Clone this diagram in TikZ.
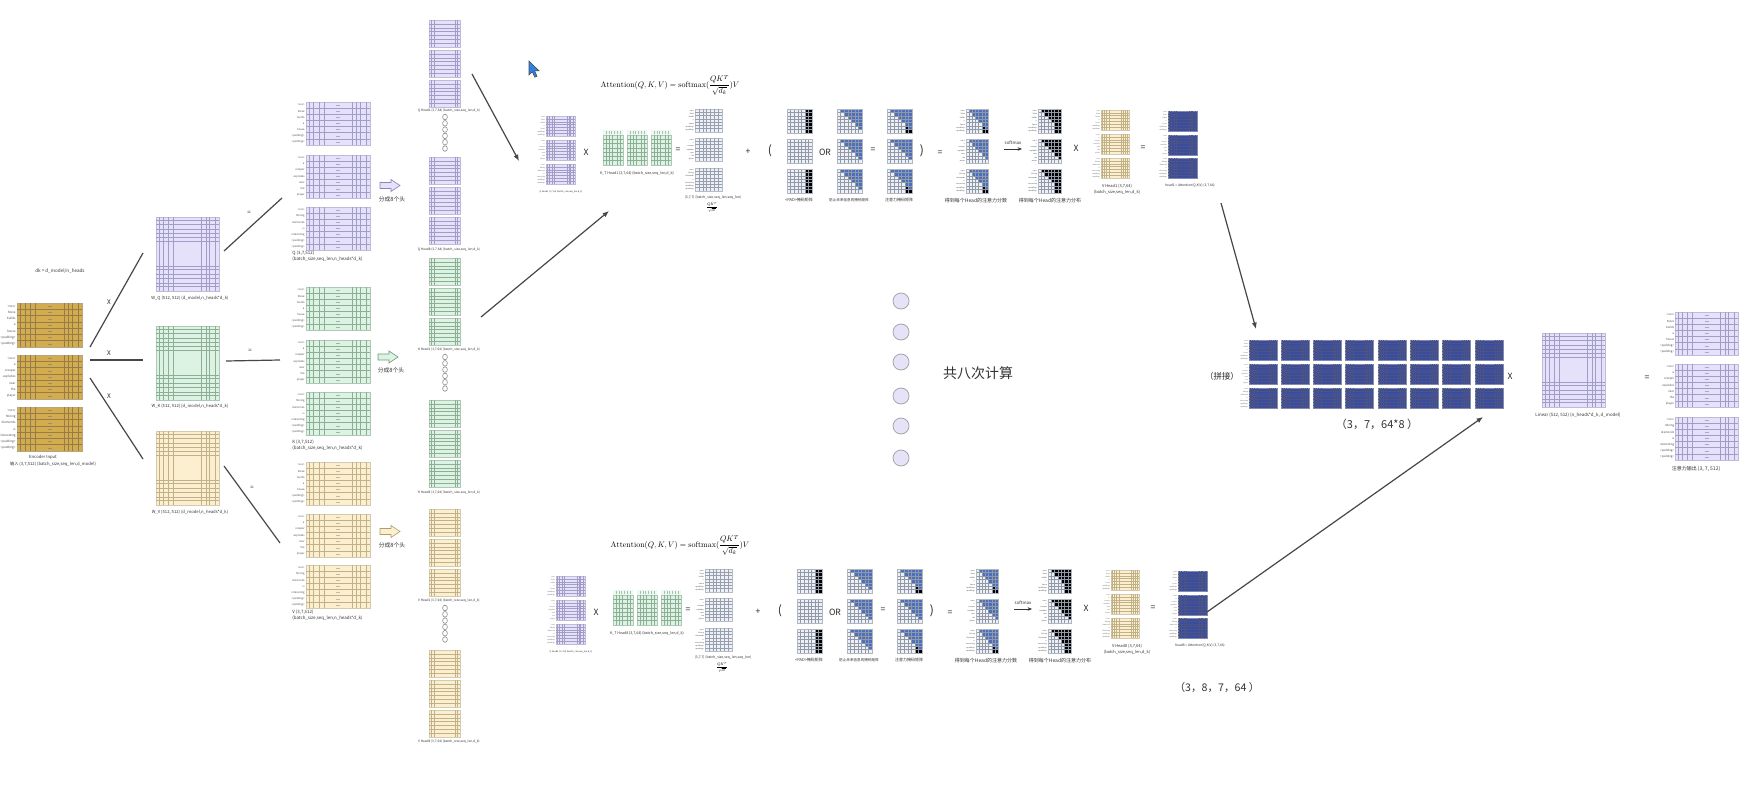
\documentclass[tikz,border=0pt]{standalone}
\usepackage{fontspec}
\usepackage{graphicx}
\newfontfamily\cjk{Noto Sans CJK SC}
\usetikzlibrary{calc,arrows.meta}
\definecolor{goldF}{HTML}{D4AC50}
\definecolor{goldL}{HTML}{7A5C1C}
\definecolor{purF}{HTML}{E6E1FA}
\definecolor{purL}{HTML}{8A84B8}
\definecolor{grnF}{HTML}{DCF2E2}
\definecolor{grnL}{HTML}{6E9A7A}
\definecolor{yelF}{HTML}{FBEFCF}
\definecolor{yelL}{HTML}{B09E6C}
\definecolor{navF}{HTML}{3B4B9D}
\definecolor{navL}{HTML}{1E2A66}
\definecolor{mskB}{HTML}{4A6FBE}
\definecolor{grdF}{HTML}{EDF1F7}
\definecolor{grdL}{HTML}{7D8797}
\definecolor{cirF}{HTML}{E6E3F8}
\definecolor{curB}{HTML}{2F80E6}

\def\VF{0.05,0.12,0.2,0.28,0.72,0.79,0.85,0.94}
\def\HS{0.143,0.286,0.429,0.571,0.714,0.857}
\def\HW{0.05,0.1,0.16,0.22,0.27,0.33,0.67,0.71,0.77,0.83,0.89,0.94}
\def\VH{0.08,0.17,0.83,0.92}
\def\VK{0.15,0.3,0.45,0.7,0.85}
\def\SA{<sos>,Steve,builds,a,house,<padding>,<padding>}
\def\SB{<sos>,a,creeper,explodes,near,the,player}
\def\SC{<sos>,Mining,diamonds,is,interesting,<padding>,<padding>}

% matrix: name, x, y, w, h, fill, line, vfracs, hfracs
\newcommand\Mx[9]{%
  \node[inner sep=0pt,outer sep=0pt,minimum width=#4*0.5pt,minimum height=#5*0.5pt,fill=#6,draw=#7!55,line width=0.3pt] (#1) at ({#2+#4/2},{#3+#5/2}) {};%
  \foreach \f in #8 {\draw[#7!80,line width=0.22pt] ({#2+\f*#4},#3) -- ({#2+\f*#4},{#3+#5});}%
  \foreach \f in #9 {\draw[#7!80,line width=0.22pt] (#2,{#3+\f*#5}) -- ({#2+#4},{#3+\f*#5});}%
}
% seven-row matrix with centre dashes
\newcommand\Sm[7]{%
  \Mx{#1}{#2}{#3}{#4}{#5}{#6}{#7}{\VF}{\HS}%
  \foreach \i in {1,...,7}{\draw[#7!70,line width=0.2pt] ({#2+#4/2-2},{#3+(\i-0.5)*#5/7}) -- ++(4,0);}%
}
% row labels: x right, y top, h, list, size
\newcommand\RL[5]{%
  \foreach \w [count=\i] in #4 {\node[anchor=east,inner sep=0pt,font=\cjk\fontsize{#5}{#5}\selectfont,text=black!70] at (#1,{#2+(\i-0.5)*#3/7}) {\w};}%
}
% mask grid: x, y, w, h, pad flag, mode (1 pad, 2 causal, 3 combined, 4 softmax)
\newcommand\Mask[6]{%
  \fill[grdF] (#1,#2) rectangle ({#1+#3},{#2+#4});%
  \foreach \rr in {0,...,6}{\foreach \cc in {0,...,6}{%
    \pgfmathtruncatemacro\mUp{\cc>\rr ? 1 : 0}%
    \pgfmathtruncatemacro\mPd{(#5==1 && \cc>4) ? 1 : 0}%
    \ifcase#6\or
      \ifnum\mPd=1 \fill[black] ({#1+\cc*#3/7},{#2+\rr*#4/7}) rectangle ++({#3/7},{#4/7});\fi
    \or
      \ifnum\mUp=1 \fill[mskB] ({#1+\cc*#3/7},{#2+\rr*#4/7}) rectangle ++({#3/7},{#4/7});\fi
    \or
      \ifnum\mUp=1 \fill[mskB] ({#1+\cc*#3/7},{#2+\rr*#4/7}) rectangle ++({#3/7},{#4/7});\else\ifnum\mPd=1 \fill[black] ({#1+\cc*#3/7},{#2+\rr*#4/7}) rectangle ++({#3/7},{#4/7});\fi\fi
    \or
      \ifnum\mUp=1 \fill[black] ({#1+\cc*#3/7},{#2+\rr*#4/7}) rectangle ++({#3/7},{#4/7});\else\ifnum\mPd=1 \fill[black] ({#1+\cc*#3/7},{#2+\rr*#4/7}) rectangle ++({#3/7},{#4/7});\fi\fi
    \fi
  }}%
  \foreach \i in {1,...,6}{\draw[grdL!85,line width=0.22pt] ({#1+\i*#3/7},#2) -- ++(0,#4); \draw[grdL!85,line width=0.22pt] (#1,{#2+\i*#4/7}) -- ++(#3,0);}%
  \draw[grdL!60,line width=0.3pt] (#1,#2) rectangle ({#1+#3},{#2+#4});%
}
% block arrow
\newcommand\BA[4]{\filldraw[fill=#3,draw=#4,line width=0.3pt] (#1,{#2-3}) -- ++(11,0) -- ++(0,-3) -- ++(9,6) -- ++(-9,6) -- ++(0,-3) -- ++(-11,0) -- cycle;}
% head group
\newcommand\HG[4]{\Mx{#1a}{429}{#2}{31}{27}{#3}{#4}{\VH}{\HS}\Mx{#1b}{429}{#2+30}{31}{27}{#3}{#4}{\VH}{\HS}\Mx{#1c}{429}{#2+60}{31}{27}{#3}{#4}{\VH}{\HS}}
\newcommand\Dots[1]{\foreach \jj in {0,...,5}{\draw[black!45,line width=0.3pt] (445,{#1+\jj*6.3}) circle[x radius=1.2pt,y radius=1.4pt];}}

% one attention row (prefix, head number)
\newcommand\AttRow[2]{%
  \node[scale=0.4,inner sep=0pt] (#1form) at (670,85) {$\displaystyle\mathrm{Attention}(Q,K,V)=\mathrm{softmax}(\frac{QK^T}{\sqrt{d_k}})V$};
  \Mx{#1q1}{546}{116}{29}{20}{purF}{purL}{\VF}{\HS}\RL{545.5}{116}{20}{\SA}{0.8}
  \Mx{#1q2}{546}{140}{29}{20}{purF}{purL}{\VF}{\HS}\RL{545.5}{140}{20}{\SB}{0.8}
  \Mx{#1q3}{546}{164}{29}{20}{purF}{purL}{\VF}{\HS}\RL{545.5}{164}{20}{\SC}{0.8}
  \node[tl,font=\cjk\fontsize{1.1}{1.3}\selectfont] (#1ql) at (561,192) {Q Head#2 (3,7,64) (batch\_size,seq\_len,d\_k)};
  \node[op] (#1x1) at (586,152) {X};
  \foreach \xx [count=\jj] in {603,627,651}{%
    \fill[grnF!50] (\xx,130) rectangle ++(20,4.5);
    \foreach \i in {1,...,6}{\draw[grnL!60,line width=0.2pt] ({\xx+\i*20/7},130.5) -- ++(0,3.5);}
    \Mx{#1k\jj}{\xx}{135}{20}{30}{grnF}{grnL}{\VK}{\HS}}
  \node[tl,font=\cjk\fontsize{1.8}{2}\selectfont] (#1kl) at (637,173) {K\_T Head#2 (3,7,64) (batch\_size,seq\_len,d\_k)};
  \node[op] (#1e1) at (678,150) {=};
  \Mx{#1s1}{695}{109}{27}{23}{grdF}{grdL}{\HS}{\HS}\RL{694.5}{109}{23}{\SA}{0.9}
  \Mx{#1s2}{695}{138}{27}{23}{grdF}{grdL}{\HS}{\HS}\RL{694.5}{138}{23}{\SB}{0.9}
  \Mx{#1s3}{695}{168}{27}{23}{grdF}{grdL}{\HS}{\HS}\RL{694.5}{168}{23}{\SC}{0.9}
  \node[tl,font=\cjk\fontsize{1.7}{2}\selectfont] (#1sl) at (713,197) {(3,7,7) (batch\_size,seq\_len,seq\_len)};
  \node[scale=0.2,inner sep=0pt] (#1sf) at (712,207) {$\displaystyle\frac{QK^T}{\sqrt{d_k}}$};
  \node[op] (#1p) at (748,152) {+};
  \node[op,font=\cjk\fontsize{6}{7}\selectfont] (#1lp) at (770,151) {(};
  \Mask{787}{109}{25}{24}{1}{1}\Mask{787}{139}{25}{24}{0}{1}\Mask{787}{169}{25}{24}{1}{1}
  \node[tl,font=\cjk\fontsize{2}{2.4}\selectfont] (#1ml1) at (799,200) {<PAD>掩码矩阵};
  \node[op] (#1or) at (825,152) {OR};
  \Mask{837}{109}{25}{24}{1}{2}\Mask{837}{139}{25}{24}{0}{2}\Mask{837}{169}{25}{24}{1}{2}
  \node[tl,font=\cjk\fontsize{1.8}{2.2}\selectfont] (#1ml2) at (849,200) {防止未来信息的掩码矩阵};
  \node[op] (#1e2) at (873,150) {=};
  \Mask{887}{109}{25}{24}{1}{3}\Mask{887}{139}{25}{24}{0}{3}\Mask{887}{169}{25}{24}{1}{3}
  \node[tl,font=\cjk\fontsize{2}{2.4}\selectfont] (#1ml3) at (899,200) {注意力掩码矩阵};
  \node[op,font=\cjk\fontsize{6}{7}\selectfont] (#1rp) at (922,151) {)};
  \node[op] (#1e3) at (940,153) {=};
  \Mask{966}{109}{22}{24}{1}{3}\RL{965.5}{109}{24}{\SA}{0.9}
  \Mask{966}{139}{22}{24}{0}{3}\RL{965.5}{139}{24}{\SB}{0.9}
  \Mask{966}{169}{22}{24}{1}{3}\RL{965.5}{169}{24}{\SC}{0.9}
  \node[tl,font=\cjk\fontsize{2.5}{3}\selectfont] (#1scl) at (976,201) {得到每个Head的注意力分数};
  \node[tl,font=\cjk\fontsize{2.2}{2.6}\selectfont] (#1smt) at (1013,143) {softmax};
  \coordinate (#1sma) at (1004,149); \coordinate (#1smb) at (1022,149);
  \draw[-{Stealth[length=2.2pt,width=1.8pt]},line width=0.35pt,black!80] (#1sma) -- (#1smb);
  \Mask{1038}{109}{23}{24}{1}{4}\RL{1037.5}{109}{24}{\SA}{0.9}
  \Mask{1038}{139}{23}{24}{0}{4}\RL{1037.5}{139}{24}{\SB}{0.9}
  \Mask{1038}{169}{23}{24}{1}{4}\RL{1037.5}{169}{24}{\SC}{0.9}
  \node[tl,font=\cjk\fontsize{2.5}{3}\selectfont] (#1sml) at (1050,201) {得到每个Head的注意力分布};
  \node[op] (#1x2) at (1076,148) {X};
  \Mx{#1v1}{1101}{110}{28}{20}{yelF}{yelL}{\VF}{\HS}\RL{1100.5}{110}{20}{\SA}{0.8}
  \Mx{#1v2}{1101}{134}{28}{20}{yelF}{yelL}{\VF}{\HS}\RL{1100.5}{134}{20}{\SB}{0.8}
  \Mx{#1v3}{1101}{158}{28}{20}{yelF}{yelL}{\VF}{\HS}\RL{1100.5}{158}{20}{\SC}{0.8}
  \node[tl,font=\cjk\fontsize{2}{3}\selectfont] (#1vl) at (1117,189) {V Head#2 (3,7,64)\\(batch\_size,seq\_len,d\_k)};
  \node[op] (#1e4) at (1143,148) {=};
  \Mx{#1o1}{1168}{111}{29}{20}{navF}{navL}{\VF}{\HS}\RL{1167.5}{111}{20}{\SA}{0.8}
  \Mx{#1o2}{1168}{135}{29}{20}{navF}{navL}{\VF}{\HS}\RL{1167.5}{135}{20}{\SB}{0.8}
  \Mx{#1o3}{1168}{158}{29}{20}{navF}{navL}{\VF}{\HS}\RL{1167.5}{158}{20}{\SC}{0.8}
  \node[tl,font=\cjk\fontsize{1.65}{2}\selectfont] (#1ol) at (1190,185) {head#2 = Attention(Q,K,V) (3,7,64)};
}

\begin{document}
\begin{tikzpicture}[x=0.5pt,y=-0.5pt,
  tl/.style={inner sep=0pt,text=black!80,align=center,font=\cjk\fontsize{2}{2.4}\selectfont},
  op/.style={inner sep=0pt,text=black!85,font=\cjk\fontsize{4.3}{5}\selectfont},
  conn/.style={draw=black!72,line width=0.6pt},
  arr/.style={conn,-{Latex[length=3.2pt,width=2.6pt]}}]
\fill[white] (0,0) rectangle (1743,792);
\useasboundingbox (0,0) rectangle (1743,792);

% ---------- input ----------
\node[tl,font=\cjk\fontsize{2.3}{2.6}\selectfont] (dk) at (60,271) {dk = d\_model/n\_heads};
\Sm{inA}{17}{303}{65}{44}{goldF}{goldL}\RL{16}{303}{44}{\SA}{1.5}
\Sm{inB}{17}{355}{65}{44}{goldF}{goldL}\RL{16}{355}{44}{\SB}{1.5}
\Sm{inC}{17}{407}{65}{44}{goldF}{goldL}\RL{16}{407}{44}{\SC}{1.5}
\node[tl,font=\cjk\fontsize{2.1}{2.4}\selectfont] (encl) at (43,457) {Encoder Input};
\node[tl,font=\cjk\fontsize{2.1}{2.4}\selectfont] (inl) at (53,464) {输入 (3,7,512) (batch\_size,seq\_len,d\_model)};

\coordinate (ia) at (90,347); \coordinate (ib) at (90,360); \coordinate (ic) at (90,378);
\coordinate (wa) at (143,253); \coordinate (wb) at (143,360); \coordinate (wc) at (143,459);
\draw[conn] (ia) -- (wa); \draw[conn] (ib) -- (wb); \draw[conn] (ic) -- (wc);
\node[op,font=\cjk\fontsize{3.2}{4}\selectfont] (xa) at (109,302) {X};
\node[op,font=\cjk\fontsize{3.2}{4}\selectfont] (xb) at (109,353) {X};
\node[op,font=\cjk\fontsize{3.2}{4}\selectfont] (xc) at (109,396) {X};

% ---------- weight matrices ----------
\Mx{WQ}{156}{217}{63}{74}{purF}{purL}{\VF}{\HW}
\Mx{WK}{156}{326}{63}{74}{grnF}{grnL}{\VF}{\HW}
\Mx{WV}{156}{431}{63}{74}{yelF}{yelL}{\VF}{\HW}
\node[tl,font=\cjk\fontsize{2.1}{2.4}\selectfont] (wql) at (190,298) {W\_Q (512, 512) (d\_model,n\_heads*d\_k)};
\node[tl,font=\cjk\fontsize{2.1}{2.4}\selectfont] (wkl) at (190,406) {W\_K (512, 512) (d\_model,n\_heads*d\_k)};
\node[tl,font=\cjk\fontsize{2.1}{2.4}\selectfont] (wvl) at (190,512) {W\_V (512, 512) (d\_model,n\_heads*d\_k)};
\coordinate (qa) at (224,251); \coordinate (qb) at (282,198);
\coordinate (ka) at (226,361); \coordinate (kb) at (280,360);
\coordinate (va) at (224,466); \coordinate (vb) at (280,543);
\draw[conn] (qa) -- (qb); \draw[conn] (ka) -- (kb); \draw[conn] (va) -- (vb);
\node[op,font=\cjk\fontsize{3}{4}\selectfont] (eqq) at (249,213) {=};
\node[op,font=\cjk\fontsize{3}{4}\selectfont] (eqk) at (250,351) {=};
\node[op,font=\cjk\fontsize{3}{4}\selectfont] (eqv) at (252,488) {=};

% ---------- Q K V ----------
\Sm{Q1}{306}{102}{64}{43}{purF}{purL}\RL{305}{102}{43}{\SA}{1.3}
\Sm{Q2}{306}{155}{64}{43}{purF}{purL}\RL{305}{155}{43}{\SB}{1.3}
\Sm{Q3}{306}{207}{64}{43}{purF}{purL}\RL{305}{207}{43}{\SC}{1.3}
\node[tl,anchor=west,align=left,font=\cjk\fontsize{2.2}{3}\selectfont] (ql) at (292,256) {Q (3,7,512)\\(batch\_size,seq\_len,n\_heads*d\_k)};
\Sm{K1}{306}{287}{64}{43}{grnF}{grnL}\RL{305}{287}{43}{\SA}{1.3}
\Sm{K2}{306}{340}{64}{43}{grnF}{grnL}\RL{305}{340}{43}{\SB}{1.3}
\Sm{K3}{306}{392}{64}{43}{grnF}{grnL}\RL{305}{392}{43}{\SC}{1.3}
\node[tl,anchor=west,align=left,font=\cjk\fontsize{2.2}{3}\selectfont] (kl) at (292,445) {K (3,7,512)\\(batch\_size,seq\_len,n\_heads*d\_k)};
\Sm{V1}{306}{462}{64}{43}{yelF}{yelL}\RL{305}{462}{43}{\SA}{1.3}
\Sm{V2}{306}{514}{64}{43}{yelF}{yelL}\RL{305}{514}{43}{\SB}{1.3}
\Sm{V3}{306}{565}{64}{43}{yelF}{yelL}\RL{305}{565}{43}{\SC}{1.3}
\node[tl,anchor=west,align=left,font=\cjk\fontsize{2.2}{3}\selectfont] (vl) at (292,615) {V (3,7,512)\\(batch\_size,seq\_len,n\_heads*d\_k)};

\BA{380}{185.5}{purF}{purL}
\BA{378}{357}{grnF}{grnL}
\BA{380}{531.5}{yelF}{yelL}
\node[tl,font=\cjk\fontsize{2.9}{3.2}\selectfont] (sq) at (392,199) {分成8个头};
\node[tl,font=\cjk\fontsize{2.9}{3.2}\selectfont] (sk) at (391,370) {分成8个头};
\node[tl,font=\cjk\fontsize{2.9}{3.2}\selectfont] (sv) at (392,545) {分成8个头};

% ---------- head column ----------
\HG{hq1}{20}{purF}{purL}\HG{hq8}{157}{purF}{purL}
\HG{hk1}{258}{grnF}{grnL}\HG{hk8}{400}{grnF}{grnL}
\HG{hv1}{509}{yelF}{yelL}\HG{hv8}{650}{yelF}{yelL}
\Dots{117}\Dots{357}\Dots{608}
\node[tl,font=\cjk\fontsize{1.6}{2}\selectfont] (hq1l) at (449,111) {Q Head1 (3,7,64) (batch\_size,seq\_len,d\_k)};
\node[tl,font=\cjk\fontsize{1.6}{2}\selectfont] (hq8l) at (449,250) {Q Head8 (3,7,64) (batch\_size,seq\_len,d\_k)};
\node[tl,font=\cjk\fontsize{1.6}{2}\selectfont] (hk1l) at (449,350) {K Head1 (3,7,64) (batch\_size,seq\_len,d\_k)};
\node[tl,font=\cjk\fontsize{1.6}{2}\selectfont] (hk8l) at (449,493) {K Head8 (3,7,64) (batch\_size,seq\_len,d\_k)};
\node[tl,font=\cjk\fontsize{1.6}{2}\selectfont] (hv1l) at (449,601) {V Head1 (3,7,64) (batch\_size,seq\_len,d\_k)};
\node[tl,font=\cjk\fontsize{1.6}{2}\selectfont] (hv8l) at (449,742) {V Head8 (3,7,64) (batch\_size,seq\_len,d\_k)};

\coordinate (hqs) at (472,74); \coordinate (hqe) at (519,161);
\coordinate (hks) at (481,317); \coordinate (hke) at (609,211);
\draw[arr] (hqs) -- (hqe);
\draw[arr] (hks) -- (hke);

% cursor
\filldraw[fill=curB,draw=black!70,line width=0.3pt] (529,61) -- (529,75) -- (532.3,71.8) -- (534.8,77.2) -- (537,76.2) -- (534.6,70.9) -- (539,70.9) -- cycle;

% ---------- attention rows ----------
\AttRow{t}{1}
\begin{scope}[shift={(10,460)}]
\AttRow{b}{8}
\end{scope}

% ---------- eight computations ----------
\foreach \yy [count=\jj] in {301,332,362,396,426,458}{\node[circle,draw=black!35,fill=cirF,line width=0.4pt,minimum size=8pt,inner sep=0pt] (c\jj) at (901,\yy) {};}
\node[font=\cjk\fontsize{7}{8}\selectfont,text=black!80,inner sep=0pt] (tot) at (978,373) {共八次计算};

% ---------- concat ----------
\node[font=\cjk\fontsize{4.2}{5}\selectfont,text=black!85,inner sep=0pt] (pj) at (1222,376) {（拼接）};
\foreach \xx [count=\cI] in {1249,1281,1313,1345,1378,1410,1442,1475}{%
  \foreach \yy [count=\rI] in {340,364,388}{\Mx{cat\rI\cI}{\xx}{\yy}{28}{20}{navF}{navL}{\VF}{\HS}}}
\RL{1248.5}{340}{20}{\SA}{0.8}\RL{1248.5}{364}{20}{\SB}{0.8}\RL{1248.5}{388}{20}{\SC}{0.8}
\node[font=\cjk\fontsize{5.5}{6}\selectfont,text=black!80,inner sep=0pt] (catl) at (1377,424) {（3，7，64*8 ）};
\node[font=\cjk\fontsize{5.3}{6}\selectfont,text=black!80,inner sep=0pt] (hdl) at (1217,688) {（3，8，7，64 ）};

\coordinate (ts) at (1221,203); \coordinate (te) at (1256,329);
\coordinate (bs) at (1207,612); \coordinate (be) at (1483,417);
\draw[arr] (ts) -- (te);
\draw[arr] (bs) -- (be);

\node[op] (xl) at (1510,376) {X};
\Mx{lin}{1542}{333}{63}{74}{purF}{purL}{\VF}{\HW}
\node[tl,font=\cjk\fontsize{2.2}{2.6}\selectfont] (linl) at (1578,415) {Linear (512, 512) (n\_heads*d\_k, d\_model)};
\node[op] (eo) at (1647,378) {=};
\Sm{O1}{1675}{312}{63}{43}{purF}{purL}\RL{1674.5}{312}{43}{\SA}{1.4}
\Sm{O2}{1675}{364}{63}{43}{purF}{purL}\RL{1674.5}{364}{43}{\SB}{1.4}
\Sm{O3}{1675}{417}{63}{43}{purF}{purL}\RL{1674.5}{417}{43}{\SC}{1.4}
\node[tl,font=\cjk\fontsize{2.5}{3}\selectfont] (outl) at (1696,469) {注意力输出 (3, 7, 512)};
\end{tikzpicture}
\end{document}
